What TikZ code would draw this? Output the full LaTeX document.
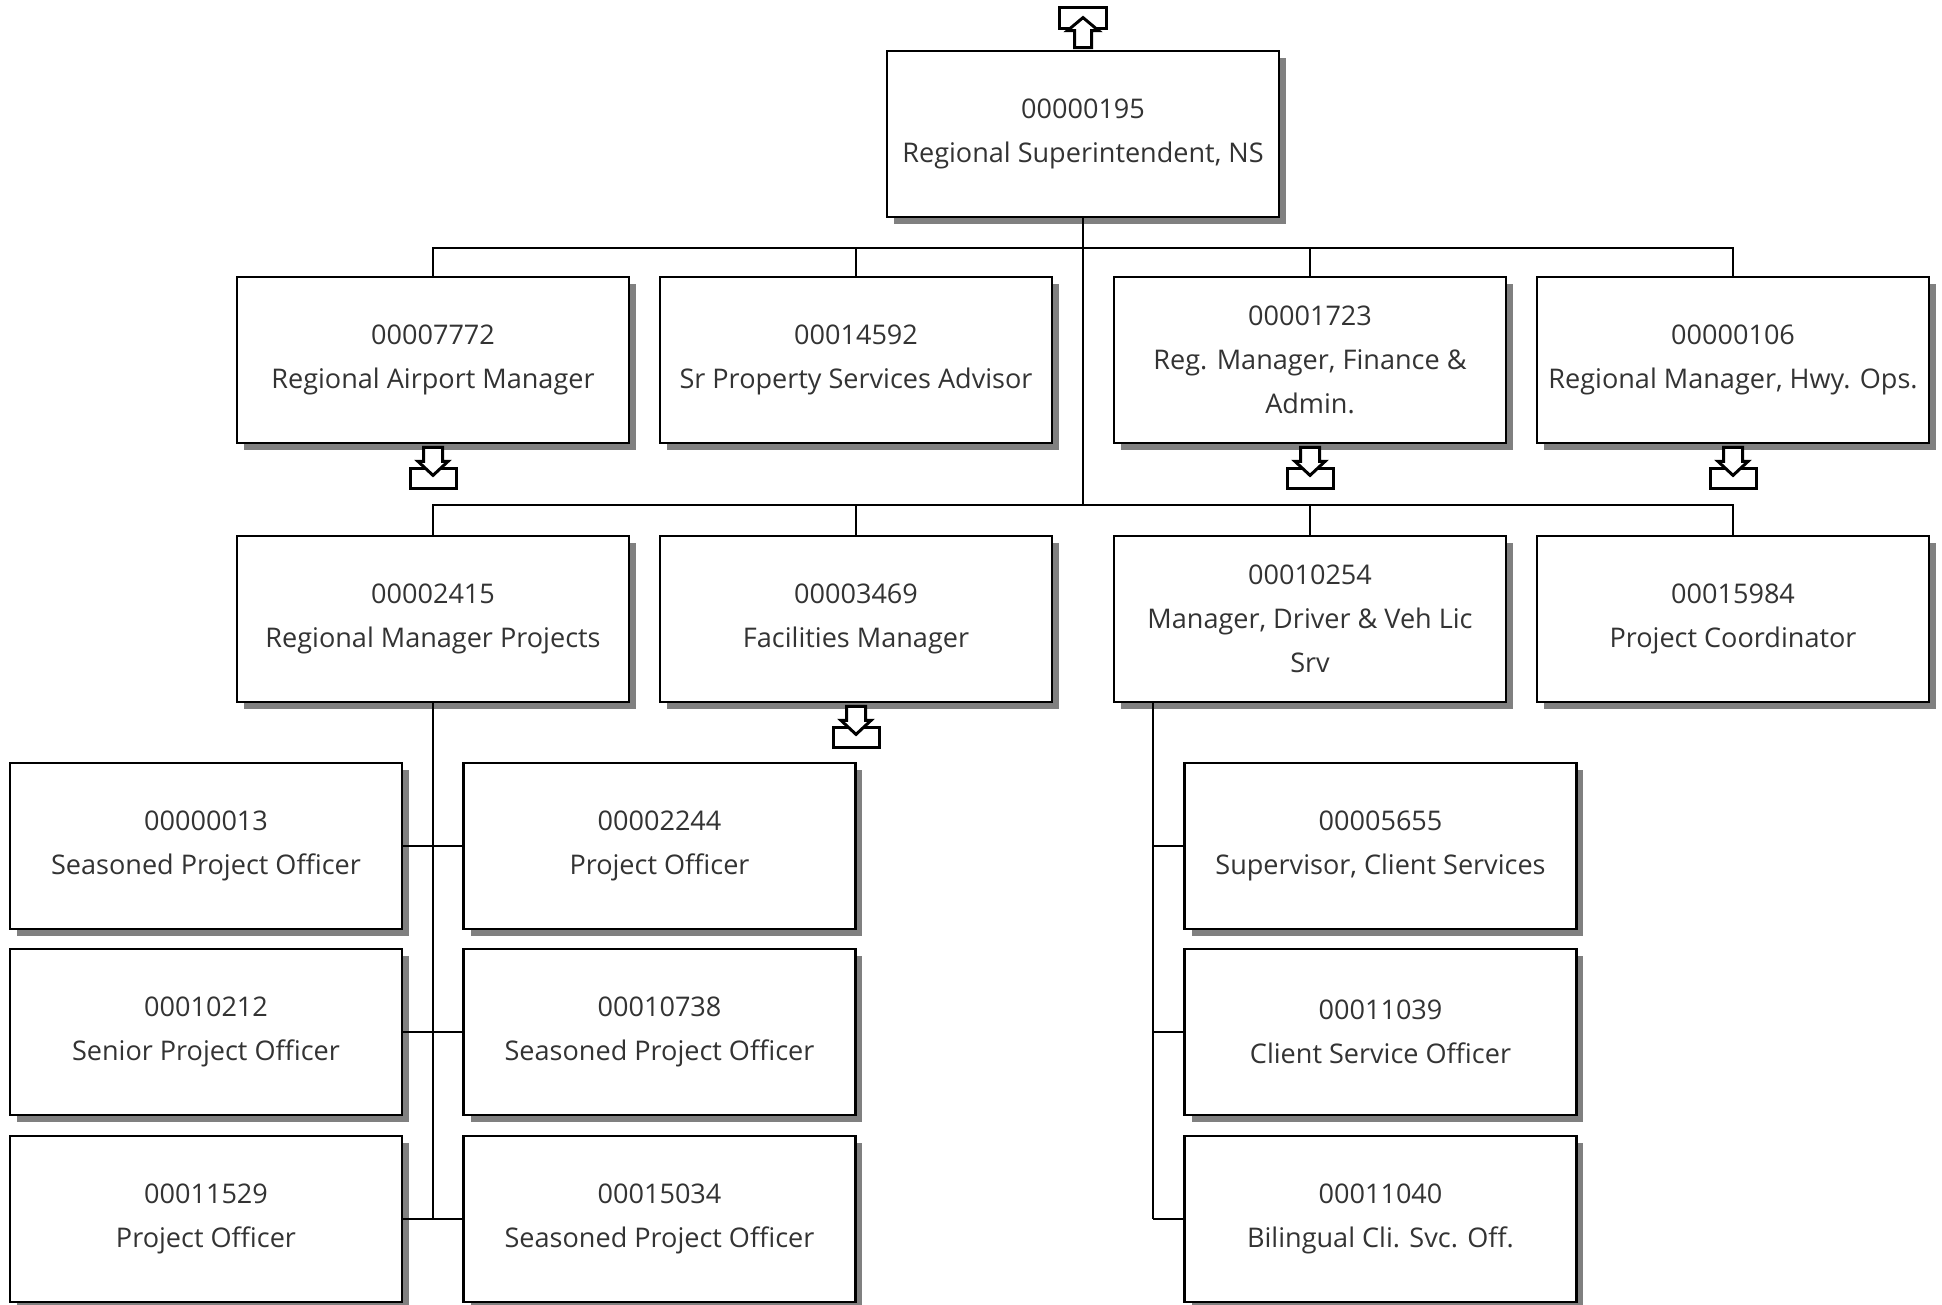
\documentclass[tikz,border=0pt]{standalone}
\usepackage{fontspec}
\setmainfont{Open Sans}
\usepackage{tikz}
\usetikzlibrary{shadows}

\tikzset{
  post/.style={draw=black, line width=1.6pt, fill=white, align=center,
    minimum width=7.84cm, minimum height=3.32cm, inner sep=0pt,
    font=\fontsize{15.4}{25}\selectfont, text=black!80,
    drop shadow={shadow xshift=0.14cm, shadow yshift=-0.14cm, fill=black!50, opacity=1}},
  conn/.style={draw=black, line width=1.3pt},
  icon/.style={draw=black, line width=1.7pt, fill=white, line join=miter},
  downicon/.pic={
    \draw[icon] (-23,24) rectangle (23,44);
    \draw[icon] (-9.5,3) -- (9.5,3) -- (9.5,17) -- (15,17) -- (0,31) -- (-15,17) -- (-9.5,17) -- cycle;
  },
  upicon/.pic={
    \draw[icon] (-23.5,-42) rectangle (23.5,-21);
    \draw[icon] (-8.5,-2) -- (8.5,-2) -- (8.5,-19) -- (15.5,-19) -- (0,-32) -- (-15.5,-19) -- (-8.5,-19) -- cycle;
  }
}

\begin{document}
\begin{tikzpicture}[x=0.02cm, y=-0.02cm]
\useasboundingbox (0,0) rectangle (1942,1304);

% top
\node[post] (n195) at (1083,134) {00000195\\Regional Superintendent, NS};

% second row
\node[post] (n7772) at (433,360) {00007772\\Regional Airport Manager};
\node[post] (n14592) at (856,360) {00014592\\Sr Property Services Advisor};
\node[post] (n1723) at (1310,360) {00001723\\Reg. Manager, Finance \&\\Admin.};
\node[post] (n106) at (1733,360) {00000106\\Regional Manager, Hwy. Ops.};

% third row
\node[post] (n2415) at (433,619) {00002415\\Regional Manager Projects};
\node[post] (n3469) at (856,619) {00003469\\Facilities Manager};
\node[post] (n10254) at (1310,619) {00010254\\Manager, Driver \& Veh Lic\\Srv};
\node[post] (n15984) at (1733,619) {00015984\\Project Coordinator};

% under 00002415
\node[post] (n13) at (206,846) {00000013\\Seasoned Project Officer};
\node[post] (n2244) at (659.5,846) {00002244\\Project Officer};
\node[post] (n10212) at (206,1032) {00010212\\Senior Project Officer};
\node[post] (n10738) at (659.5,1032) {00010738\\Seasoned Project Officer};
\node[post] (n11529) at (206,1219) {00011529\\Project Officer};
\node[post] (n15034) at (659.5,1219) {00015034\\Seasoned Project Officer};

% under 00010254
\node[post] (n5655) at (1380.5,846) {00005655\\Supervisor, Client Services};
\node[post] (n11039) at (1380.5,1032) {00011039\\Client Service Officer};
\node[post] (n11040) at (1380.5,1219) {00011040\\Bilingual Cli. Svc. Off.};

% buses
\coordinate (busA) at (1083,248);
\coordinate (busB) at (1083,505);
\coordinate (rtop) at (1153,702);

\draw[conn] (n195.south) -- (busB);
\draw[conn] (n7772.north) |- (busA) -| (n106.north);
\draw[conn] (n14592.north) -- (n14592.north |- busA);
\draw[conn] (n1723.north) -- (n1723.north |- busA);
\draw[conn] (n2415.north) |- (busB) -| (n15984.north);
\draw[conn] (n3469.north) -- (n3469.north |- busB);
\draw[conn] (n10254.north) -- (n10254.north |- busB);

\draw[conn] (n2415.south) -- (n2415.south |- n11529.east);
\draw[conn] (n13.east) -- (n2244.west);
\draw[conn] (n10212.east) -- (n10738.west);
\draw[conn] (n11529.east) -- (n15034.west);

\draw[conn] (rtop) -- (rtop |- n11040.west);
\draw[conn] (rtop |- n5655.west) -- (n5655.west);
\draw[conn] (rtop |- n11039.west) -- (n11039.west);
\draw[conn] (rtop |- n11040.west) -- (n11040.west);

% more-levels markers
\pic at (n195.north) {upicon};
\pic at (n7772.south) {downicon};
\pic at (n1723.south) {downicon};
\pic at (n106.south) {downicon};
\pic at (n3469.south) {downicon};
\end{tikzpicture}
\end{document}
